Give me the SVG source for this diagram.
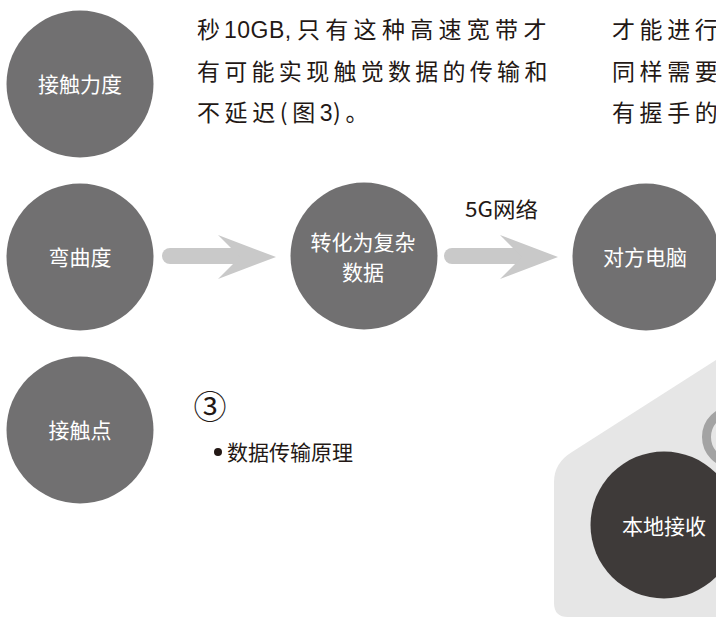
<svg xmlns="http://www.w3.org/2000/svg" width="716" height="618" viewBox="0 0 716 618">
<style>
.node{fill:#717071}
.dark{fill:#3e3a39}
.lbl{font-family:"Noto Sans CJK SC","Noto Sans",sans-serif;font-size:21px;fill:#ffffff;text-anchor:middle}
.body{font-family:"Noto Sans CJK SC","Noto Sans",sans-serif;font-size:23px;fill:#231815;letter-spacing:4.6px}
.lat{font-family:"Liberation Sans","Noto Sans",sans-serif;letter-spacing:0.5px}
.note{font-family:"Noto Sans CJK SC","Noto Sans",sans-serif;font-size:21px;fill:#231815}
.shaft{stroke:#c9c9c9;stroke-width:16;stroke-linecap:round;fill:none}
.head{fill:#c9c9c9}
</style>
<rect width="716" height="618" fill="#ffffff"/>
<g id="background-house">
<path d="M716 360 L572 452 Q554 463 554 482 L554 603 Q554 617 568 617 L716 617 Z" fill="#e6e6e6"/>
<circle cx="733" cy="437" r="26.5" fill="none" stroke="#a3a3a3" stroke-width="9"/>
</g>
<g id="body-text">
<text class="body" y="38"><tspan x="197">秒</tspan><tspan class="lat" x="224">10GB,</tspan><tspan x="297" textLength="254" lengthAdjust="spacing">只有这种高速宽带才</tspan></text>
<text class="body" x="197" y="80" textLength="355" lengthAdjust="spacing">有可能实现触觉数据的传输和</text>
<text class="body" x="197" y="121">不延迟(图<tspan class="lat">3</tspan>)。</text>
<text class="body" x="612" y="38">才能进行</text>
<text class="body" x="612" y="80">同样需要</text>
<text class="body" x="612" y="121">有握手的</text>
</g>
<g id="node-force">
<circle class="node" cx="80" cy="84" r="73.5"/>
<text class="lbl" x="80" y="92">接触力度</text>
</g>
<g id="node-bend">
<circle class="node" cx="80" cy="257" r="73.5"/>
<text class="lbl" x="80" y="265">弯曲度</text>
</g>
<g id="node-contact">
<circle class="node" cx="80" cy="430" r="73.5"/>
<text class="lbl" x="80" y="438">接触点</text>
</g>
<g id="node-convert">
<circle class="node" cx="364" cy="256" r="73.5"/>
<text class="lbl" x="363" y="250">转化为复杂</text>
<text class="lbl" x="363" y="280">数据</text>
</g>
<g id="node-remote">
<circle class="node" cx="646" cy="257" r="73.5"/>
<text class="lbl" x="645" y="265">对方电脑</text>
</g>
<g id="node-local">
<circle class="dark" cx="664" cy="525" r="73.5"/>
<text class="lbl" x="664" y="534">本地接收</text>
</g>
<g id="connectors">
<line class="shaft" x1="170" y1="256" x2="236" y2="256"/>
<polygon class="head" points="218,235 276,257 218,279 240,257"/>
<line class="shaft" x1="452" y1="256" x2="518" y2="256"/>
<polygon class="head" points="500,235 558,257 500,279 522,257"/>
<text class="note" x="465" y="217" font-size="22" textLength="73" lengthAdjust="spacingAndGlyphs">5G网络</text>
</g>
<g id="caption">
<text x="210" y="419" font-family="'Noto Sans CJK SC','DejaVu Sans',sans-serif" font-size="33" fill="#231815" text-anchor="middle">③</text>
<circle cx="218" cy="452" r="4" fill="#231815"/>
<text class="note" x="227" y="460">数据传输原理</text>
</g>
</svg>
